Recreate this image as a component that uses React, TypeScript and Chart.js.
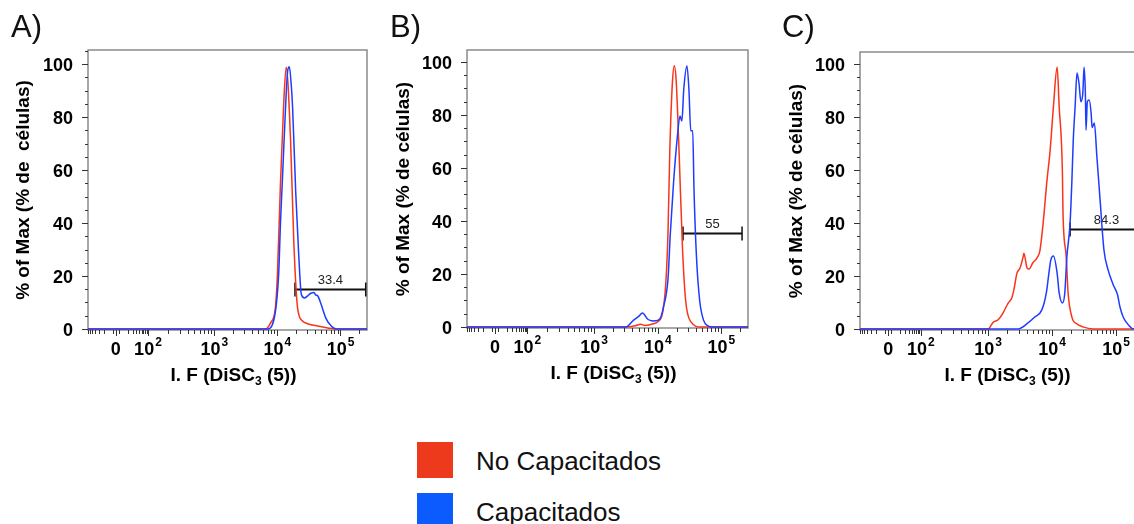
import React, { useEffect, useRef } from "react";
import { Chart, registerables } from "chart.js";

Chart.register(...registerables);

const FONT = '"Liberation Sans", Arial, Helvetica, sans-serif';

// ---------------- data ----------------
const panelLetters = ["A)", "B)", "C)"];
const yAxisTitles = ["% of Max (% de  células)", "% of Max (% de células)", "% of Max (% de células)"];
const seriesNames = ["No Capacitados", "Capacitados"];
const xTitleMain = "I. F (DiSC";
const xTitleSub = "3";
const xTitleEnd = " (5))";

const yTickValues = [0, 20, 40, 60, 80, 100];
const xMajorValues = [0, 100, 1000, 10000, 100000];
const xMajorBase = ["0", "10", "10", "10", "10"];
const xMajorExponents = ["", "2", "3", "4", "5"];

// Panel A
const aNoCapIntensity = [-100, 6500, 7800, 9300, 10000, 11200, 12600, 13800, 16200, 18200, 20900, 25100, 30200, 43600, 63100, 85100, 300000];
const aNoCapPct = [0, 0, 2.3, 8, 20, 55, 85, 98.8, 71, 33, 8, 3, 2, 1.1, 0.4, 0, 0];
const aCapIntensity = [-100, 6900, 8700, 10500, 11200, 12000, 13500, 14500, 15500, 16600, 17400, 19500, 21900, 24000, 26900, 30200, 33900, 38000, 40700, 43600, 49000, 58900, 70800, 85100, 300000];
const aCapPct = [0, 0, 3, 21, 40, 56, 84, 97, 99, 92, 84, 52, 27, 13, 11.7, 12.5, 13.5, 13.8, 12.8, 12.5, 9.5, 4, 1.2, 0, 0];

// Panel B
const bNoCapIntensity = [-100, 3160, 4470, 5370, 6310, 8510, 10000, 11900, 13400, 14500, 15500, 17000, 18200, 19500, 21600, 24500, 27500, 33100, 47900, 300000];
const bNoCapPct = [0, 0, 0.5, 1.0, 0.6, 1.2, 2, 5.2, 16.5, 35.4, 66.8, 92, 98.6, 93, 67, 30, 10, 2, 0, 0];
const bCapIntensity = [-100, 3160, 4170, 5010, 5750, 6920, 7590, 8510, 10000, 11200, 12300, 14500, 15800, 17800, 20400, 22400, 24000, 25700, 28800, 30900, 33100, 35500, 37200, 40700, 45700, 52500, 61700, 70800, 300000];
const bCapPct = [0, 0, 2.6, 4, 5.3, 3, 2.5, 2.3, 2.5, 3.8, 7.5, 18, 35.5, 55, 72, 79.6, 77.7, 89.8, 98.5, 90, 74, 74, 52, 26.4, 10, 2.6, 0.4, 0, 0];

// Panel C
const cNoCapIntensity = [-100, 1000, 1200, 1450, 1700, 2040, 2370, 2570, 2820, 3160, 3550, 3630, 4070, 4370, 5010, 5890, 6460, 7240, 8320, 9330, 10500, 12000, 12900, 14500, 14800, 16600, 17800, 20400, 24500, 30200, 43600, 300000];
const cNoCapPct = [0, 0, 2.5, 3.6, 5.9, 9.6, 12, 15.6, 21, 23, 27.5, 28.6, 23, 22.6, 25, 27, 29.6, 39.8, 56, 67.5, 84, 98.8, 84, 59, 44, 27.5, 13.6, 4.5, 1.9, 0.8, 0, 0];
const cCapIntensity = [-100, 2950, 4070, 5370, 6920, 8130, 8910, 9550, 10500, 12000, 12900, 14500, 15800, 17000, 19100, 20400, 21400, 22900, 24500, 26300, 28200, 30200, 31600, 33100, 33900, 35500, 38000, 40700, 42200, 45700, 50100, 56200, 64600, 75000, 89100, 105000, 115000, 129000, 148000, 166000, 186000, 300000];
const cCapPct = [0, 0, 2, 4.5, 7.2, 13.6, 21, 26, 27.5, 21, 13.6, 9.8, 13.6, 27, 40, 56, 71, 84, 96.6, 92.8, 85.7, 89, 98.8, 89, 75, 85.7, 86.4, 81.5, 76, 77.7, 65, 48.7, 29.8, 22.3, 17, 13, 8.3, 4.5, 2.2, 0.8, 0, 0];

// Gates (bar markers)
const gateLabels = ["33.4", "55", "84.3"];
const gateStart = [19000, 25000, 19100];
const gateEnd = [251000, 212000, 262000];
const gateLevel = [15, 35.5, 37.8];

// ---------------- styling / layout ----------------
const RED_LINE = "#F8341A";
const BLUE_LINE = "#1E3CFF";
const RED_KEY = "#EE3A1C";
const BLUE_KEY = "#0B5BFF";

type Area = { left: number; right: number; top: number; bottom: number };
type PanelSpec = {
  idx: number;
  left: number;
  width: number;
  area: Area;
  yMin: number;
  yMax: number;
  titlePad: number;
  letterX: number;
  noCapX: number[];
  noCapY: number[];
  capX: number[];
  capY: number[];
};

const CANVAS_H = 400;
const X_MIN = 1.0;
const X_MAX = 5.42;

const panels: PanelSpec[] = [
  { idx: 0, left: 0, width: 380, area: { left: 88, right: 367, top: 50, bottom: 330 }, yMin: -0.38, yMax: 105.3, titlePad: 12.6, letterX: 11, noCapX: aNoCapIntensity, noCapY: aNoCapPct, capX: aCapIntensity, capY: aCapPct },
  { idx: 1, left: 380, width: 380, area: { left: 87, right: 368, top: 50, bottom: 328 }, yMin: -0.38, yMax: 104.5, titlePad: 12.6, letterX: 10, noCapX: bNoCapIntensity, noCapY: bNoCapPct, capX: bCapIntensity, capY: bCapPct },
  { idx: 2, left: 760, width: 400, area: { left: 100, right: 383, top: 52, bottom: 330 }, yMin: -0.38, yMax: 104.5, titlePad: 25.6, letterX: 22, noCapX: cNoCapIntensity, noCapY: cNoCapPct, capX: cCapIntensity, capY: cCapPct },
];

// biexponential-like display transform (decade units)
function posAxis(a: number): number {
  if (a >= 1000) return Math.log10(a);
  if (a >= 100) return 1.95 + 1.05 * (Math.log10(a) - 2);
  if (a >= 10) return 1.49 + 0.46 * (Math.log10(a) - 1);
  return 1.44 + 0.005 * a;
}
function toAxis(v: number): number {
  if (v >= 0) return posAxis(v);
  return 1.44 - (posAxis(-v) - 1.44);
}

const xMinorValues: number[] = (() => {
  const out: number[] = [];
  for (let m = 1; m <= 9; m++) out.push(-10 * m);
  for (let m = 1; m <= 9; m++) out.push(10 * m);
  for (const dec of [100, 1000, 10000, 100000]) {
    for (let m = 2; m <= 9; m++) out.push(dec * m);
  }
  return out;
})();

function makePlugin(p: PanelSpec) {
  return {
    id: "decor" + p.idx,
    beforeDatasetsDraw(chart: any) {
      const { ctx, chartArea: a, scales } = chart;
      const xs = scales.x;
      const ys = scales.y;
      ctx.save();
      ctx.strokeStyle = "#8a8a8a";
      ctx.lineWidth = 1.5;
      ctx.strokeRect(a.left, a.top, a.right - a.left, a.bottom - a.top);
      // gate
      const i = p.idx;
      const x1 = xs.getPixelForValue(toAxis(gateStart[i]));
      const x2 = xs.getPixelForValue(toAxis(gateEnd[i]));
      const yb = Math.round(ys.getPixelForValue(gateLevel[i])) + 0.5;
      ctx.strokeStyle = "#111";
      ctx.lineWidth = 2;
      ctx.beginPath();
      ctx.moveTo(x1, yb);
      ctx.lineTo(x2, yb);
      ctx.stroke();
      ctx.lineWidth = 1.5;
      ctx.beginPath();
      ctx.moveTo(x1, yb - 7);
      ctx.lineTo(x1, yb + 7);
      ctx.moveTo(x2, yb - 7);
      ctx.lineTo(x2, yb + 7);
      ctx.stroke();
      ctx.fillStyle = "#222";
      ctx.font = `13px ${FONT}`;
      ctx.textAlign = "center";
      ctx.textBaseline = "alphabetic";
      ctx.fillText(gateLabels[i], (x1 + x2) / 2, yb - 6);
      ctx.restore();
    },
    afterDraw(chart: any) {
      const { ctx, chartArea: a, scales } = chart;
      const xs = scales.x;
      const ys = scales.y;
      ctx.save();
      // x ticks
      ctx.strokeStyle = "#333";
      ctx.lineWidth = 1;
      ctx.beginPath();
      const drawX = (v: number, len: number) => {
        const px = Math.round(xs.getPixelForValue(toAxis(v))) + 0.5;
        if (px < a.left - 0.5 || px > a.right + 0.5) return;
        ctx.moveTo(px, a.bottom);
        ctx.lineTo(px, a.bottom + len);
      };
      xMinorValues.forEach((v) => drawX(v, 4));
      xMajorValues.forEach((v) => drawX(v, 6));
      // y ticks
      for (let v = 0; v <= p.yMax; v += 5) {
        const py = Math.round(ys.getPixelForValue(v)) + 0.5;
        const len = v % 20 === 0 ? 6 : 3;
        ctx.moveTo(a.left - len, py);
        ctx.lineTo(a.left, py);
      }
      ctx.stroke();

      // x tick labels with superscripts
      ctx.fillStyle = "#000";
      ctx.textBaseline = "alphabetic";
      ctx.textAlign = "left";
      const baseFont = `bold 18px ${FONT}`;
      const expFont = `bold 12px ${FONT}`;
      const labY = a.bottom + 25;
      xMajorValues.forEach((v, k) => {
        const px = xs.getPixelForValue(toAxis(v));
        ctx.font = baseFont;
        const wb = ctx.measureText(xMajorBase[k]).width;
        ctx.font = expFont;
        const we = xMajorExponents[k] ? ctx.measureText(xMajorExponents[k]).width + 1 : 0;
        const x0 = px - (wb + we) / 2;
        ctx.font = baseFont;
        ctx.fillText(xMajorBase[k], x0, labY);
        if (we) {
          ctx.font = expFont;
          ctx.fillText(xMajorExponents[k], x0 + wb + 1, labY - 9);
        }
      });

      // x title with subscript
      const tFont = `bold 19px ${FONT}`;
      const sFont = `bold 12px ${FONT}`;
      ctx.font = tFont;
      const w1 = ctx.measureText(xTitleMain).width;
      const w3 = ctx.measureText(xTitleEnd).width;
      ctx.font = sFont;
      const w2 = ctx.measureText(xTitleSub).width;
      const cx = (a.left + a.right) / 2 + 6;
      const tx = cx - (w1 + w2 + w3) / 2;
      const ty = a.bottom + 51;
      ctx.font = tFont;
      ctx.fillText(xTitleMain, tx, ty);
      ctx.font = sFont;
      ctx.fillText(xTitleSub, tx + w1, ty + 4);
      ctx.font = tFont;
      ctx.fillText(xTitleEnd, tx + w1 + w2, ty);

      // panel letter
      ctx.font = `31px ${FONT}`;
      ctx.fillStyle = "#111";
      ctx.fillText(panelLetters[p.idx], p.letterX, 37);
      ctx.restore();
    },
  };
}

function toPoints(xsArr: number[], ysArr: number[]) {
  return xsArr.map((v, i) => ({ x: toAxis(v), y: ysArr[i] }));
}

function Panel({ spec }: { spec: PanelSpec }) {
  const ref = useRef<HTMLCanvasElement>(null);
  useEffect(() => {
    const a = spec.area;
    const chart = new Chart(ref.current as HTMLCanvasElement, {
      type: "line",
      data: {
        datasets: [
          {
            label: seriesNames[1],
            data: toPoints(spec.capX, spec.capY),
            borderColor: BLUE_LINE,
            borderWidth: 1.5,
            pointRadius: 0,
            fill: false,
            cubicInterpolationMode: "monotone",
          },
          {
            label: seriesNames[0],
            data: toPoints(spec.noCapX, spec.noCapY),
            borderColor: RED_LINE,
            borderWidth: 1.5,
            pointRadius: 0,
            fill: false,
            cubicInterpolationMode: "monotone",
          },
        ],
      },
      options: {
        animation: false,
        responsive: false,
        devicePixelRatio: 1,
        parsing: false as any,
        layout: { padding: { left: 0, right: spec.width - a.right, top: a.top, bottom: 0 } },
        plugins: { legend: { display: false }, tooltip: { enabled: false } },
        scales: {
          x: {
            type: "linear",
            min: X_MIN,
            max: X_MAX,
            grid: { display: false, drawTicks: false },
            border: { display: false },
            ticks: { display: false },
            afterFit: (s: any) => {
              s.height = CANVAS_H - a.bottom;
            },
          },
          y: {
            type: "linear",
            min: spec.yMin,
            max: spec.yMax,
            grid: { display: false, drawTicks: false },
            border: { display: false },
            ticks: {
              color: "#000",
              font: { family: FONT, size: 18, weight: "bold" },
              padding: 15,
              labelOffset: 2,
            },
            afterBuildTicks: (s: any) => {
              s.ticks = yTickValues.map((v) => ({ value: v }));
            },
            afterFit: (s: any) => {
              s.width = a.left;
            },
            title: {
              display: true,
              text: yAxisTitles[spec.idx],
              color: "#000",
              font: { family: FONT, size: 19, weight: "bold" },
              padding: { top: spec.titlePad, bottom: 0 },
            },
          },
        },
      } as any,
      plugins: [makePlugin(spec)],
    });
    return () => chart.destroy();
  }, [spec]);
  return (
    <canvas
      ref={ref}
      width={spec.width}
      height={CANVAS_H}
      style={{ position: "absolute", left: spec.left, top: 0, width: spec.width, height: CANVAS_H }}
    />
  );
}

const legendColors = [RED_KEY, BLUE_KEY];
const legendTops = [442, 493];

export default function App() {
  return (
    <div
      style={{
        position: "fixed",
        left: 0,
        top: 0,
        width: 1134,
        height: 524,
        overflow: "hidden",
        background: "#fff",
      }}
    >
      {panels.map((p) => (
        <Panel key={p.idx} spec={p} />
      ))}
      {seriesNames.map((name, i) => (
        <React.Fragment key={name}>
          <div
            style={{
              position: "absolute",
              left: 417,
              top: legendTops[i],
              width: 36,
              height: 36,
              background: legendColors[i],
            }}
          />
          <div
            style={{
              position: "absolute",
              left: 476,
              top: legendTops[i] + 6,
              fontFamily: FONT,
              fontSize: 26,
              lineHeight: "26px",
              color: "#111",
              whiteSpace: "nowrap",
            }}
          >
            {name}
          </div>
        </React.Fragment>
      ))}
    </div>
  );
}
